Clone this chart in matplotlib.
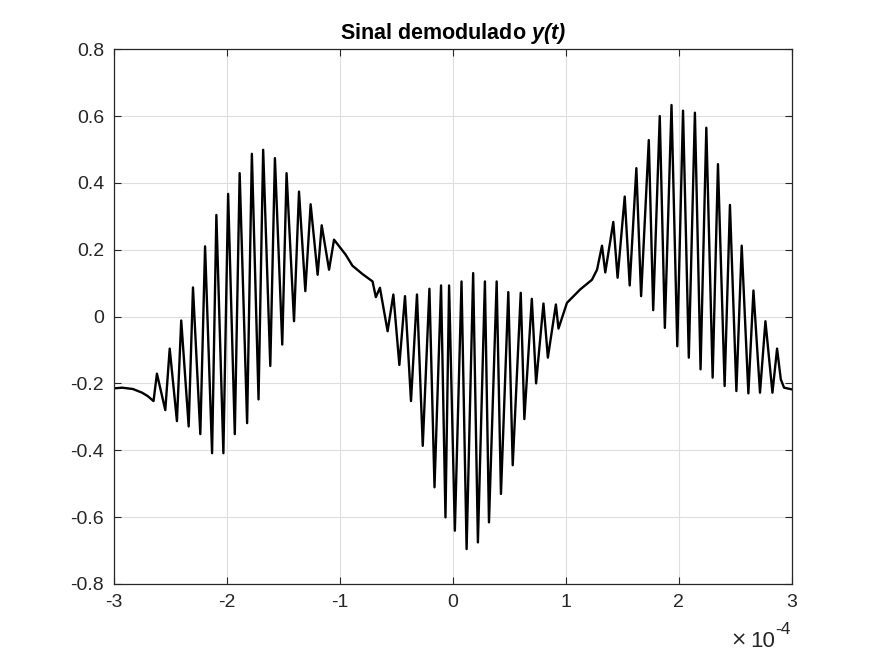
import matplotlib
matplotlib.use("Agg")
import matplotlib.pyplot as plt

# time in units of 1e-4 s, amplitude values
t_e4 = [-3.000, -2.926, -2.830, -2.749, -2.700, -2.648, -2.618, -2.544, -2.505, -2.441, -2.403, -2.337,
        -2.299, -2.234, -2.192, -2.130, -2.092, -2.030, -1.988, -1.929, -1.886, -1.820,
        -1.778, -1.719, -1.678, -1.615, -1.574, -1.509, -1.471, -1.405, -1.361, -1.305,
        -1.258, -1.196, -1.160, -1.095, -1.051, -0.948, -0.888, -0.799, -0.710, -0.681,
        -0.645, -0.577, -0.526, -0.473, -0.423, -0.370, -0.317, -0.266, -0.207, -0.162,
        -0.104, -0.065, -0.033, 0.018, 0.077, 0.122, 0.180, 0.222, 0.284, 0.320,
        0.388, 0.426, 0.491, 0.530, 0.601, 0.633, 0.699, 0.737, 0.802, 0.841,
        0.912, 0.935, 1.010, 1.127, 1.231, 1.276, 1.320, 1.349, 1.420, 1.458,
        1.521, 1.565, 1.624, 1.666, 1.734, 1.773, 1.831, 1.876, 1.935, 1.986,
        2.037, 2.088, 2.142, 2.192, 2.243, 2.299, 2.346, 2.405, 2.452, 2.509,
        2.556, 2.615, 2.660, 2.718, 2.766, 2.828, 2.869, 2.902, 2.931, 3.000]
y_vals = [-0.215, -0.213, -0.217, -0.228, -0.238, -0.253, -0.171, -0.280, -0.096, -0.313, -0.012, -0.329,
          0.087, -0.352, 0.210, -0.409, 0.304, -0.409, 0.367, -0.352, 0.429, -0.319,
          0.487, -0.248, 0.499, -0.148, 0.474, -0.084, 0.429, -0.014, 0.374, 0.076,
          0.336, 0.125, 0.273, 0.140, 0.230, 0.185, 0.152, 0.127, 0.105, 0.058,
          0.086, -0.044, 0.066, -0.145, 0.061, -0.253, 0.066, -0.387, 0.083, -0.511,
          0.093, -0.601, 0.093, -0.641, 0.105, -0.696, 0.130, -0.676, 0.105, -0.616,
          0.105, -0.531, 0.073, -0.445, 0.071, -0.307, 0.053, -0.200, 0.039, -0.123,
          0.036, -0.036, 0.041, 0.081, 0.110, 0.140, 0.212, 0.132, 0.283, 0.116,
          0.359, 0.093, 0.444, 0.061, 0.528, 0.019, 0.600, -0.034, 0.633, -0.089,
          0.616, -0.123, 0.610, -0.158, 0.565, -0.183, 0.456, -0.208, 0.334, -0.223,
          0.212, -0.230, 0.078, -0.228, -0.014, -0.228, -0.096, -0.188, -0.213, -0.218]

x_ticks = [-3, -2, -1, 0, 1, 2, 3]
y_ticks = [-0.8, -0.6, -0.4, -0.2, 0, 0.2, 0.4, 0.6, 0.8]
y_tick_labels = ["-0.8", "-0.6", "-0.4", "-0.2", "0", "0.2", "0.4", "0.6", "0.8"]
x_tick_labels = ["-3", "-2", "-1", "0", "1", "2", "3"]
title = r"Sinal demodulado $\mathbfit{y(t)}$"

plt.rcParams['font.family'] = ['Liberation Sans', 'DejaVu Sans']
plt.rcParams['axes.unicode_minus'] = False
plt.rcParams['mathtext.fontset'] = 'custom'
plt.rcParams['mathtext.rm'] = 'Liberation Sans'
plt.rcParams['mathtext.it'] = 'Liberation Sans:italic'
plt.rcParams['mathtext.bf'] = 'Liberation Sans:bold'
plt.rcParams['mathtext.bfit'] = 'Liberation Sans:bold:italic'

W, H = 875, 656
fig = plt.figure(figsize=(W / 100, H / 100), dpi=100)
ax = fig.add_axes([0.13, 0.11, 0.775, 0.815])
ax.plot(t_e4, y_vals, color='black', lw=1.7)
ax.set_xlim(-3, 3)
ax.set_ylim(-0.8, 0.8)
ax.set_xticks(x_ticks)
ax.set_xticklabels(x_tick_labels)
ax.set_yticks(y_ticks)
ax.set_yticklabels(y_tick_labels)
ax.grid(True, color='#dedede', lw=0.8)
ax.set_axisbelow(True)
ax.tick_params(direction='in', length=5, width=0.8, colors='#262626', labelsize=14,
               labelcolor='#262626', top=True, right=True, pad=7)
for s in ax.spines.values():
    s.set_color('#262626')
    s.set_linewidth(0.9)
ax.set_title(title, fontsize=15.5, fontweight='bold', color='black', pad=7)
fig.text(747 / W, 1 - 646 / H, "\u00d7", ha='right', va='baseline',
         fontsize=14, color='#262626', family='DejaVu Sans')
fig.text(775 / W, 1 - 647 / H, "10", ha='right', va='baseline',
         fontsize=16, color='#262626')
fig.text(775 / W, 1 - 633.5 / H, "-4", ha='left', va='baseline',
         fontsize=12.5, color='#262626')
fig.savefig("out.png", dpi=100)
